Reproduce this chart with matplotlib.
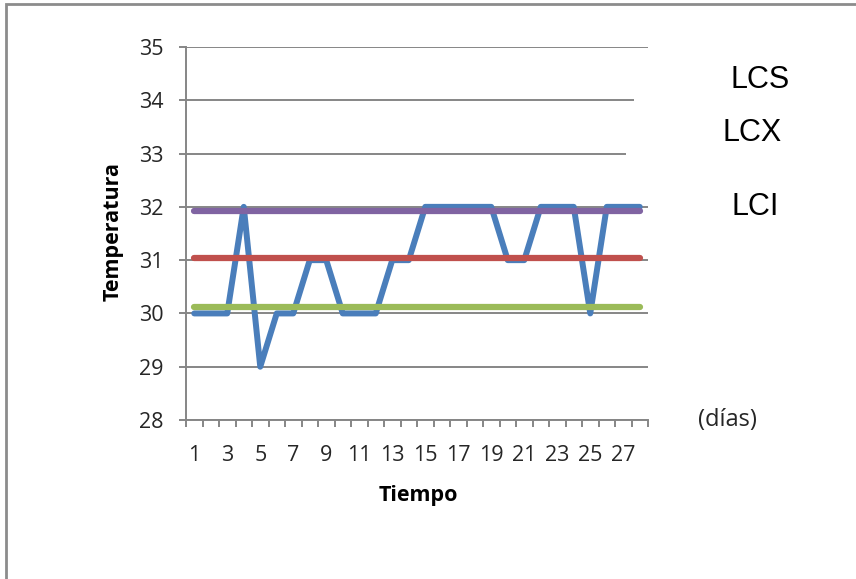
import matplotlib
matplotlib.use("Agg")
import matplotlib.pyplot as plt
from matplotlib.patches import Rectangle
from matplotlib.ticker import FixedLocator, NullFormatter

# Daily temperature readings and control limits
dias = list(range(1, 29))
temperatura = [30, 30, 30, 32, 29, 30, 30, 31, 31, 30, 30, 30, 31, 31,
               32, 32, 32, 32, 32, 31, 31, 32, 32, 32, 30, 32, 32, 32]
lcs = 31.93
lcx = 31.04
lci = 30.13
y_ticks = [28, 29, 30, 31, 32, 33, 34, 35]
x_labels = [str(d) if d % 2 == 1 else "" for d in dias]

W, H = 856, 579
fig = plt.figure(figsize=(W / 100, H / 100), dpi=100)
fig.patch.set_facecolor("white")

def fx(px):
    return px / W

def fy(py):
    return 1 - py / H

ax = fig.add_axes([fx(186), fy(420), fx(648) - fx(186), fy(47) - fy(420)])

grid_c = "#868686"
ax.set_xlim(0.5, 28.5)
ax.set_ylim(28, 35)

ax.plot(dias, temperatura, color="#4a7ebb", lw=4.3, solid_joinstyle="round",
        solid_capstyle="round", zorder=3)
ax.plot([dias[0], dias[-1]], [lcs, lcs], color="#8064a2", lw=4.5,
        solid_capstyle="round", zorder=4)
ax.plot([dias[0], dias[-1]], [lcx, lcx], color="#c0504d", lw=4.5,
        solid_capstyle="round", zorder=4)
ax.plot([dias[0], dias[-1]], [lci, lci], color="#9bbb59", lw=4.5,
        solid_capstyle="round", zorder=4)

# Horizontal gridlines
ax.set_yticks(y_ticks)
ax.yaxis.grid(True, color=grid_c, lw=1.4)
ax.set_axisbelow(True)

# Category axis: labels at centres, tick marks at boundaries
ax.set_xticks(dias)
ax.set_xticklabels(x_labels)
ax.xaxis.set_minor_locator(FixedLocator([d + 0.5 for d in range(0, 29)]))
ax.xaxis.set_minor_formatter(NullFormatter())
ax.tick_params(axis="x", which="major", length=0, pad=18)
ax.tick_params(axis="x", which="minor", length=5, width=1.4, color=grid_c,
               direction="out")
ax.tick_params(axis="y", length=5, width=1.4, color=grid_c, pad=11)

font_c = "Open Sans"
for lab in ax.get_xticklabels() + ax.get_yticklabels():
    lab.set_fontfamily(font_c)
    lab.set_fontsize(15.5)
    lab.set_color("#262626")

for s in ["top", "right"]:
    ax.spines[s].set_visible(False)
for s in ["left", "bottom"]:
    ax.spines[s].set_color(grid_c)
    ax.spines[s].set_linewidth(1.4)

fig.text(fx(418), fy(496), "Tiempo", ha="center", va="center",
         fontfamily=font_c, fontsize=15.5, fontweight="bold")
fig.text(fx(113), fy(232), "Temperatura", ha="center", va="center",
         rotation=90, fontfamily=font_c, fontsize=15.5, fontweight="bold")
fig.text(fx(727), fy(420), "(días)", ha="center", va="center",
         fontfamily=font_c, fontsize=17, color="#262626")

# Limit labels in white boxes
fig.patches.append(Rectangle((fx(634), fy(108)), fx(740) - fx(634),
                             fy(58) - fy(108), transform=fig.transFigure,
                             facecolor="white", edgecolor="none", zorder=5))
fig.patches.append(Rectangle((fx(626), fy(160)), fx(740) - fx(626),
                             fy(112) - fy(160), transform=fig.transFigure,
                             facecolor="white", edgecolor="none", zorder=5))
fig.text(fx(760), fy(80), "LCS", ha="center", va="center",
         fontfamily="Liberation Sans", fontsize=22, zorder=6)
fig.text(fx(752), fy(133), "LCX", ha="center", va="center",
         fontfamily="Liberation Sans", fontsize=22, zorder=6)
fig.text(fx(755), fy(207), "LCI", ha="center", va="center",
         fontfamily="Liberation Sans", fontsize=22, zorder=6)

# Outer frame
fig.patches.append(Rectangle((fx(6), fy(600)), fx(880) - fx(6),
                             fy(4) - fy(600), transform=fig.transFigure,
                             facecolor="none", edgecolor="#8c8c8c", lw=2,
                             zorder=7))

fig.savefig("out.png", dpi=100)
